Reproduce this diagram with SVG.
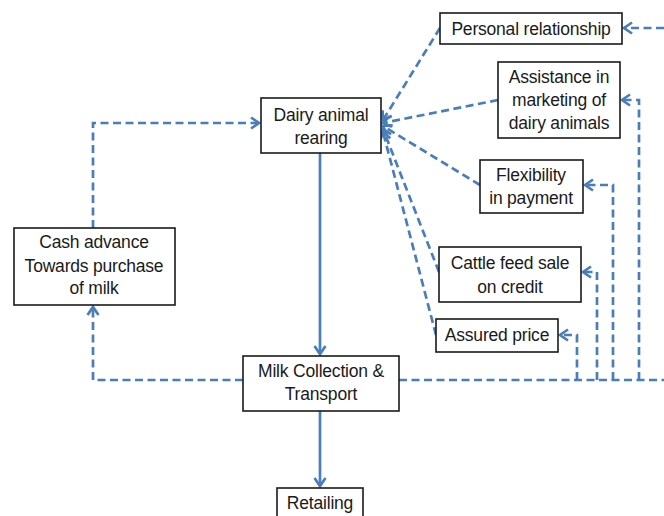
<svg xmlns="http://www.w3.org/2000/svg" width="664" height="516" viewBox="0 0 664 516">
<style>
.box{fill:#fff;stroke:#1a1a1a;stroke-width:1.6}
.t{font-family:"Liberation Sans",Arial,sans-serif;font-size:17.5px;fill:#1a1a1a;text-anchor:middle;letter-spacing:-0.2px}
.c{fill:none;stroke:#4a7ebb;stroke-width:2.7}
.d{stroke-dasharray:8 4.5}
</style>
<defs>
<marker id="ah" markerUnits="userSpaceOnUse" markerWidth="14" markerHeight="14" viewBox="0 0 14 14" refX="11" refY="7" orient="auto">
<path d="M3,1.5 L11,7 L3,12.5" fill="none" stroke="#4a7ebb" stroke-width="2.7"/>
</marker>
</defs>
<g id="connectors">
<path class="c" d="M320,153 V354" marker-end="url(#ah)"/>
<path class="c" d="M320,411 V486" marker-end="url(#ah)"/>
<path class="c d" d="M243,380 H93 V307" marker-end="url(#ah)"/>
<path class="c d" d="M93,228 V123 H259" marker-end="url(#ah)"/>
<path class="c d" d="M399,380 H664"/>
<path class="c d" d="M577,380 V335 H560" marker-end="url(#ah)"/>
<path class="c d" d="M597,380 V272 H583" marker-end="url(#ah)"/>
<path class="c d" d="M613,380 V185 H585" marker-end="url(#ah)"/>
<path class="c d" d="M639,380 V100 H622" marker-end="url(#ah)"/>
<path class="c d" d="M664,28 H624" marker-end="url(#ah)"/>
<path class="c d" d="M440,28 L383,120" marker-end="url(#ah)"/>
<path class="c d" d="M498,100 L383,123" marker-end="url(#ah)"/>
<path class="c d" d="M480,185 L383,126" marker-end="url(#ah)"/>
<path class="c d" d="M439,272 L383,129" marker-end="url(#ah)"/>
<path class="c d" d="M436,335 L383,132" marker-end="url(#ah)"/>
</g>
<g id="personal">
<rect class="box" x="440" y="13" width="182" height="31"/>
<text class="t" x="531" y="34.5">Personal relationship</text>
</g>
<g id="assistance">
<rect class="box" x="498" y="62" width="122" height="76"/>
<text class="t" x="559" y="83">Assistance in</text>
<text class="t" x="559" y="106">marketing of</text>
<text class="t" x="559" y="129">dairy animals</text>
</g>
<g id="flexibility">
<rect class="box" x="480" y="160" width="103" height="53"/>
<text class="t" x="531" y="181">Flexibility</text>
<text class="t" x="531" y="204">in payment</text>
</g>
<g id="cattle">
<rect class="box" x="439" y="247" width="142" height="55"/>
<text class="t" x="510" y="269">Cattle feed sale</text>
<text class="t" x="510" y="293">on credit</text>
</g>
<g id="assured">
<rect class="box" x="436" y="319" width="122" height="33"/>
<text class="t" x="497" y="341">Assured price</text>
</g>
<g id="dairy">
<rect class="box" x="261" y="98" width="120" height="55"/>
<text class="t" x="321" y="121">Dairy animal</text>
<text class="t" x="321" y="144">rearing</text>
</g>
<g id="cash">
<rect class="box" x="14" y="228" width="161" height="77"/>
<text class="t" x="94" y="248">Cash advance</text>
<text class="t" x="94" y="272">Towards purchase</text>
<text class="t" x="94" y="294">of milk</text>
</g>
<g id="milk">
<rect class="box" x="243" y="356" width="156" height="55"/>
<text class="t" x="321" y="377">Milk Collection &amp;</text>
<text class="t" x="321" y="400">Transport</text>
</g>
<g id="retailing">
<rect class="box" x="277" y="488" width="86" height="40"/>
<text class="t" x="320" y="509">Retailing</text>
</g>
</svg>
